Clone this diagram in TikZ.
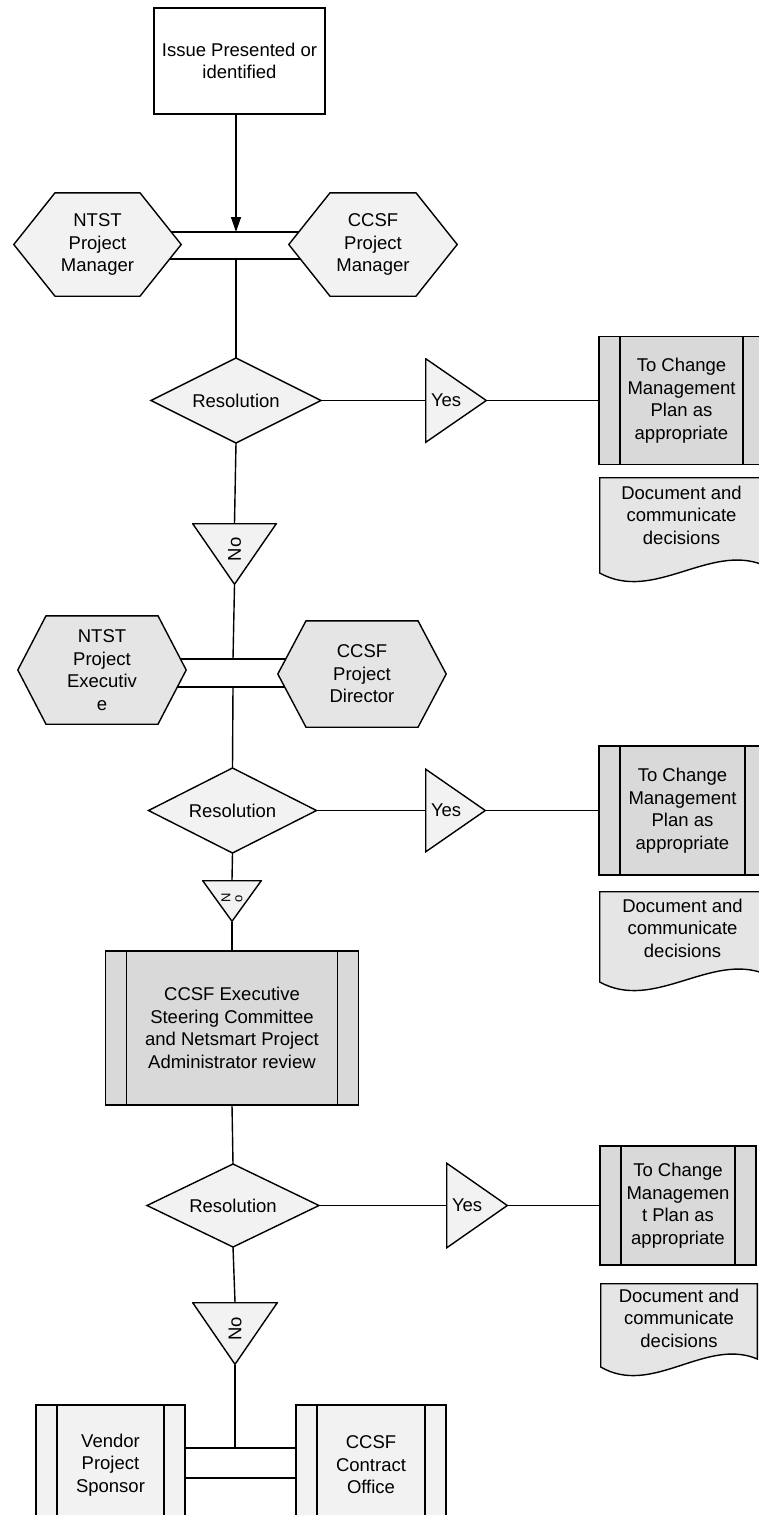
\documentclass[tikz,border=0pt]{standalone}
\usepackage{fontspec}
\setmainfont{Liberation Sans}
\usepackage{graphicx}
\usetikzlibrary{shapes.geometric,calc,arrows.meta}
\pgfdeclarelayer{bg}
\pgfsetlayers{bg,main}
\newcommand\fsz{\fontsize{18.5}{22.5}\selectfont}
\definecolor{fwhite}{gray}{1}
\definecolor{flight}{gray}{0.95}
\definecolor{fmid}{gray}{0.90}
\definecolor{fdark}{gray}{0.85}
\tikzset{
  lw/.style={line width=1.4pt},
  every node/.style={font=\fsz, align=center, inner sep=0pt, outer sep=0pt},
  plainbox/.style={rectangle, draw, lw, fill=#1},
  procbox/.style={rectangle, draw, lw, fill=#1, path picture={
     \draw[lw] ([xshift=21pt]path picture bounding box.north west) -- ([xshift=21pt]path picture bounding box.south west);
     \draw[lw] ([xshift=-21pt]path picture bounding box.north east) -- ([xshift=-21pt]path picture bounding box.south east);}},
  hexgen/.style 2 args={rectangle, path picture={
     \path[draw, lw, fill=#1] ([xshift=0.8pt]path picture bounding box.west)
       -- ([shift={(#2,-0.8pt)}]path picture bounding box.north west)
       -- ([shift={(-#2,-0.8pt)}]path picture bounding box.north east)
       -- ([xshift=-0.8pt]path picture bounding box.east)
       -- ([shift={(-#2,0.8pt)}]path picture bounding box.south east)
       -- ([shift={(#2,0.8pt)}]path picture bounding box.south west) -- cycle;}},
  hexA/.style={hexgen={#1}{42pt}},
  hexB/.style={hexgen={#1}{29pt}},
  dia/.style={diamond, aspect=2, draw, lw, fill=#1, minimum width=170pt, minimum height=85pt},
  yestri/.style={rectangle, path picture={
     \path[draw, lw, fill=#1] ([shift={(0.7pt,-0.7pt)}]path picture bounding box.north west)
       -- ([xshift=-0.7pt]path picture bounding box.east)
       -- ([shift={(0.7pt,0.7pt)}]path picture bounding box.south west) -- cycle;}},
  notri/.style={rectangle, path picture={
     \path[draw, lw, fill=#1] ([shift={(0.7pt,-0.7pt)}]path picture bounding box.north west)
       -- ([shift={(-0.7pt,-0.7pt)}]path picture bounding box.north east)
       -- ([yshift=0.7pt]path picture bounding box.south) -- cycle;}},
  docshape/.style={rectangle, path picture={
     \path[draw, lw, fill=#1] ([shift={(0.7pt,-0.7pt)}]path picture bounding box.north west)
       -- ([shift={(0.7pt,10pt)}]path picture bounding box.south west)
       .. controls ($(path picture bounding box.south west)!0.33!(path picture bounding box.south east)+(0pt,-20pt)$)
       and ($(path picture bounding box.south west)!0.67!(path picture bounding box.south east)+(0pt,40pt)$)
       .. ([shift={(-0.7pt,18pt)}]path picture bounding box.south east)
       -- ([shift={(-0.7pt,-0.7pt)}]path picture bounding box.north east) -- cycle;}},
}
\begin{document}
\begin{tikzpicture}[x=1pt,y=-1pt]
\useasboundingbox (0,0) rectangle (759,1515);
% top
\node[plainbox=fwhite, minimum width=171pt, minimum height=106pt] (top) at (239.5,61) {Issue Presented or\\identified};
% row 1 hexagons
\node[hexA=flight, minimum width=169pt, minimum height=105pt] (h1L) at (97.5,244.5) {NTST\\Project\\Manager};
\node[hexA=flight, minimum width=170pt, minimum height=105pt] (h1R) at (373,244.5) {CCSF\\Project\\Manager};
\coordinate (b1u) at (236,232);
\coordinate (b1l) at (236,259);
% decision 1
\node[dia=flight] (d1) at (236,400.5) {Resolution};
\node[yestri=flight, minimum width=62pt, minimum height=85pt] (yes1) at (456,400.5) {\makebox[62pt][l]{\hspace{6pt}Yes}};
\node[procbox=fdark, minimum width=165pt, minimum height=128pt] (box1) at (681.5,400.5) {To Change\\Management\\Plan as\\appropriate};
\node[docshape=fmid, minimum width=165pt, minimum height=106pt] (doc1) at (681.5,530) {};
\node (doc1t) at (681.5,515) {Document and\\communicate\\decisions};
\node[notri=flight, minimum width=85pt, minimum height=62pt] (no1) at (234.5,554) {\raisebox{9pt}{\rotatebox{90}{No}}};
% row 2 hexagons
\node[hexB=fmid, minimum width=170pt, minimum height=110pt] (h2L) at (102,670) {NTST\\Project\\Executiv\\e};
\node[hexB=fmid, minimum width=170pt, minimum height=108pt] (h2R) at (362,674) {CCSF\\Project\\Director};
\coordinate (b2u) at (233,659);
\coordinate (b2l) at (233,687);
% decision 2
\node[dia=flight, minimum width=168pt] (d2) at (232.5,810.5) {Resolution};
\node[yestri=flight, minimum width=61pt, minimum height=84pt] (yes2) at (455.5,810.5) {\makebox[61pt][l]{\hspace{6pt}Yes}};
\node[procbox=fdark, minimum width=167pt, minimum height=129pt] (box2) at (682.5,810.5) {To Change\\Management\\Plan as\\appropriate};
\node[docshape=fmid, minimum width=167pt, minimum height=101pt] (doc2) at (682.5,941.5) {};
\node (doc2t) at (682.5,928) {Document and\\communicate\\decisions};
\node[notri=flight, minimum width=60pt, minimum height=42pt] (no2) at (232,901) {\raisebox{7pt}{\fontsize{13}{13}\selectfont\rotatebox{90}{N}\hspace{5pt}\rotatebox{90}{o}}};
% steering committee
\node[procbox=fdark, minimum width=253pt, minimum height=154pt] (ccsf) at (232,1028) {CCSF Executive\\Steering Committee\\and Netsmart Project\\Administrator review};
% decision 3
\node[dia=flight, minimum width=172pt, minimum height=83pt] (d3) at (233,1205.5) {Resolution};
\node[yestri=flight, minimum width=62pt, minimum height=86pt] (yes3) at (477,1205.5) {\makebox[62pt][l]{\hspace{6pt}Yes}};
\node[procbox=fdark, minimum width=156pt, minimum height=119pt] (box3) at (678,1205.5) {To Change\\Managemen\\t Plan as\\appropriate};
\node[docshape=fmid, minimum width=158pt, minimum height=94pt] (doc3) at (679,1330) {};
\node (doc3t) at (679,1318) {Document and\\communicate\\decisions};
\node[notri=flight, minimum width=86pt, minimum height=63pt] (no3) at (235,1333.5) {\raisebox{9pt}{\rotatebox{90}{No}}};
% bottom
\node[procbox=flight, minimum width=149pt, minimum height=120pt] (vend) at (110.5,1465) {Vendor\\Project\\Sponsor};
\node[procbox=flight, minimum width=150pt, minimum height=120pt] (cco) at (371,1465) {CCSF\\Contract\\Office};
\coordinate (b3u) at (235,1448);
\coordinate (b3l) at (235,1478);
% connectors
\begin{pgfonlayer}{bg}
\draw[lw] (h1L.center |- b1u) -- (h1R.center |- b1u);
\draw[lw] (h1L.center |- b1l) -- (h1R.center |- b1l);
\draw[lw, -{Triangle[length=15pt,width=10pt]}] (top.south -| b1u) -- (b1u);
\draw[lw] (b1l) -- (d1.north);
\draw[lw] (d1.east) -- (yes1.west);
\draw[lw] (yes1.east) -- (box1.west);
\draw[lw] (d1.south) -- (no1.north);
\draw[lw] (no1.south) -- (b2u);
\draw[lw] (h2L.center |- b2u) -- (h2R.center |- b2u);
\draw[lw] (h2L.center |- b2l) -- (h2R.center |- b2l);
\draw[lw] (b2l) -- (d2.north);
\draw[lw] (d2.east) -- (yes2.west);
\draw[lw] (yes2.east) -- (box2.west);
\draw[lw] (d2.south) -- (no2.north);
\draw[lw] (no2.south) -- (ccsf.north);
\draw[lw] (ccsf.south) -- (d3.north);
\draw[lw] (d3.east) -- (yes3.west);
\draw[lw] (yes3.east) -- (box3.west);
\draw[lw] (d3.south) -- (no3.north);
\draw[lw] (no3.south) -- (b3u);
\draw[lw] (vend.center |- b3u) -- (cco.center |- b3u);
\draw[lw] (vend.center |- b3l) -- (cco.center |- b3l);
\end{pgfonlayer}
\end{tikzpicture}
\end{document}
